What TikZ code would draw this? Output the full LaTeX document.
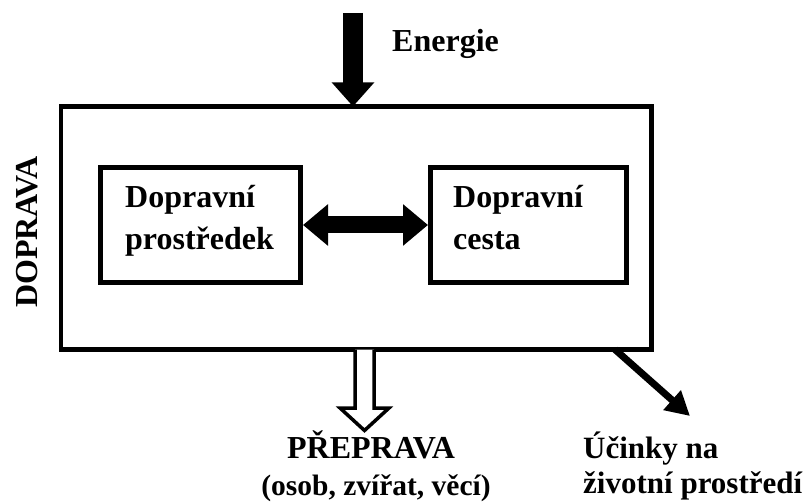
\documentclass[tikz,border=0pt]{standalone}
\usepackage{fontspec}
\setmainfont{Liberation Serif}
\usetikzlibrary{arrows.meta,calc}

\tikzset{
  frame/.style={draw=black, line width=4.5pt},
  subbox/.style={draw=black, line width=5pt, rectangle, inner sep=0pt},
  lbl/.style={inner sep=0pt, anchor=base west, font=\bfseries\fontsize{32}{40}\selectfont},
  lblsmall/.style={lbl, font=\bfseries\fontsize{29.5}{36}\selectfont},
  lblenv/.style={lbl, font=\bfseries\fontsize{31}{38}\selectfont},
  blockarrow/.style={draw=black, line width=20pt,
    -{Triangle[length=24pt,width=41pt]}},
  twoway/.style={draw=black, line width=17pt,
    {Triangle[length=25pt,width=40pt]}-{Triangle[length=25pt,width=40pt]}},
  effect/.style={draw=black, line width=7pt,
    -{Triangle[length=24pt,width=25pt]}},
  hollow/.style={draw=black, line width=3.5pt, fill=white, line join=miter},
}

\begin{document}
\begin{tikzpicture}[x=1pt, y=-1pt]
  \useasboundingbox (0,0) rectangle (808,502);

  % transport system frame
  \draw[frame] (61,106.5) rectangle (651.5,349.5);
  \coordinate (frameTop) at (353,106.5);
  \coordinate (frameBottom) at (364.5,349.5);
  \coordinate (frameExit) at (615,349.5);

  % vehicle and route
  \node[subbox, minimum width=200pt, minimum height=115pt] (vehicle) at (200.5,225) {};
  \node[subbox, minimum width=196pt, minimum height=115pt] (route) at (528.5,225) {};

  \node[lbl] (vehicle1) at (125,208) {Dopravní};
  \node[lbl] (vehicle2) at (125,250) {prostředek};
  \node[lbl] (route1) at (453,208) {Dopravní};
  \node[lbl] (route2) at (453,250) {cesta};

  % vertical system label
  \node[lbl, anchor=base, rotate=90] (system) at (37,232) {DOPRAVA};

  % energy input
  \coordinate (energySrc) at (353,13);
  \draw[blockarrow] (energySrc) -- (frameTop);
  \node[lbl] (energy) at (392,52) {Energie};

  % interaction between vehicle and route
  \draw[twoway] (vehicle.east) -- (route.west);

  % output: transportation (hollow arrow)
  \draw[hollow, shift={(frameBottom)}]
    (-9.5,0) -- (-9.5,58.5) -- (-24.5,58.5) -- (0,81) -- (24.5,58.5) -- (9.5,58.5) -- (9.5,0);

  \node[lbl, anchor=base] (carriage) at (371,458) {PŘEPRAVA};
  \node[lblsmall, anchor=base] (carriage2) at (376,495) {(osob, zvířat, věcí)};

  % environmental effects
  \coordinate (effectTip) at (690,416);
  \draw[effect] (frameExit) -- (effectTip);
  \node[lblenv] (env1) at (583,458) {Účinky na};
  \node[lblenv] (env2) at (583,493) {životní prostředí};
\end{tikzpicture}
\end{document}
